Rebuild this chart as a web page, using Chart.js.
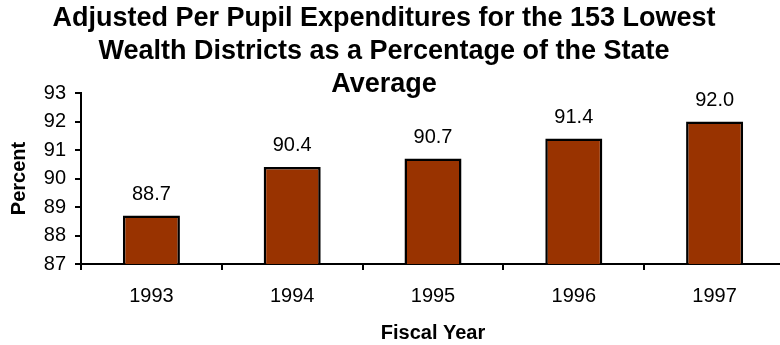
<!DOCTYPE html>
<html>
<head>
<meta charset="utf-8">
<script src="https://cdn.jsdelivr.net/npm/chart.js@4/dist/chart.umd.min.js"></script>
<style>
  html, body { margin: 0; padding: 0; background: #fff; overflow: hidden; }
  #wrap { width: 790px; height: 345px; }
</style>
</head>
<body>
<div id="wrap"><canvas id="expChart" width="790" height="345"></canvas></div>
<script>
// Fiscal years and spending as a % of the state average
const years = ['1993', '1994', '1995', '1996', '1997'];
const percentOfState = [88.7, 90.4, 90.7, 91.4, 92.0];
const yTicks = [87, 88, 89, 90, 91, 92, 93];

const titleLines = [
    'Adjusted Per Pupil Expenditures for the 153 Lowest',
    'Wealth Districts as a Percentage of the State',
    'Average'
];

const FONT = '"Liberation Sans", Arial, sans-serif';

// Three-line heading, drawn by hand so it can sit over the plot's top edge
const titleLinesPlugin = {
    id: 'titleLines',
    afterDraw(chart) {
        const ctx = chart.ctx;
        ctx.save();
        ctx.font = 'bold 27px ' + FONT;
        ctx.fillStyle = '#000';
        ctx.textAlign = 'center';
        ctx.textBaseline = 'alphabetic';
        titleLines.forEach((line, i) => ctx.fillText(line, 384, 26 + i * 33));
        ctx.restore();
    }
};

// Value printed above each bar
const valueLabels = {
    id: 'valueLabels',
    afterDatasetsDraw(chart) {
        const ctx = chart.ctx;
        const meta = chart.getDatasetMeta(0);
        ctx.save();
        ctx.font = '20px ' + FONT;
        ctx.fillStyle = '#000';
        ctx.textAlign = 'center';
        ctx.textBaseline = 'alphabetic';
        meta.data.forEach((bar, i) => {
            ctx.fillText(percentOfState[i].toFixed(1), bar.x, bar.y - 16);
        });
        ctx.restore();
    }
};

const ctx = document.getElementById('expChart').getContext('2d');
new Chart(ctx, {
    type: 'bar',
    data: {
        labels: years,
        datasets: [{
            data: percentOfState,
            backgroundColor: '#993300',
            borderColor: '#000',
            borderWidth: 2.5,
            borderSkipped: false,
            barPercentage: 0.405,
            categoryPercentage: 1.0
        }]
    },
    options: {
        responsive: false,
        animation: false,
        devicePixelRatio: 1,
        layout: { padding: { top: 93, right: 5, left: 0, bottom: 0 } },
        scales: {
            x: {
                grid: { offset: true, drawOnChartArea: false, drawTicks: true, tickLength: 6, color: '#000', lineWidth: 2 },
                border: { display: true, color: '#000', width: 2 },
                ticks: { color: '#000', font: { family: FONT, size: 20 }, padding: 14 },
                title: {
                    display: true, text: 'Fiscal Year', color: '#000',
                    font: { family: FONT, size: 20, weight: 'bold' },
                    padding: { top: 0, bottom: 0 }
                },
                afterFit(scale) { scale.height = 81; }
            },
            y: {
                min: yTicks[0],
                max: yTicks[yTicks.length - 1],
                afterBuildTicks(scale) { scale.ticks = yTicks.map(v => ({ value: v })); },
                grid: { drawOnChartArea: false, drawTicks: true, tickLength: 6, color: '#000', lineWidth: 2 },
                border: { display: true, color: '#000', width: 2 },
                ticks: { color: '#000', font: { family: FONT, size: 20 }, padding: 9 },
                title: {
                    display: true, text: 'Percent', color: '#000',
                    font: { family: FONT, size: 20, weight: 'bold' },
                    padding: { top: 7, bottom: 0 }
                },
                afterFit(scale) { scale.width = 81; }
            }
        },
        plugins: {
            legend: { display: false },
            title: { display: false },
            tooltip: { enabled: false }
        }
    },
    plugins: [titleLinesPlugin, valueLabels]
});
</script>
</body>
</html>
